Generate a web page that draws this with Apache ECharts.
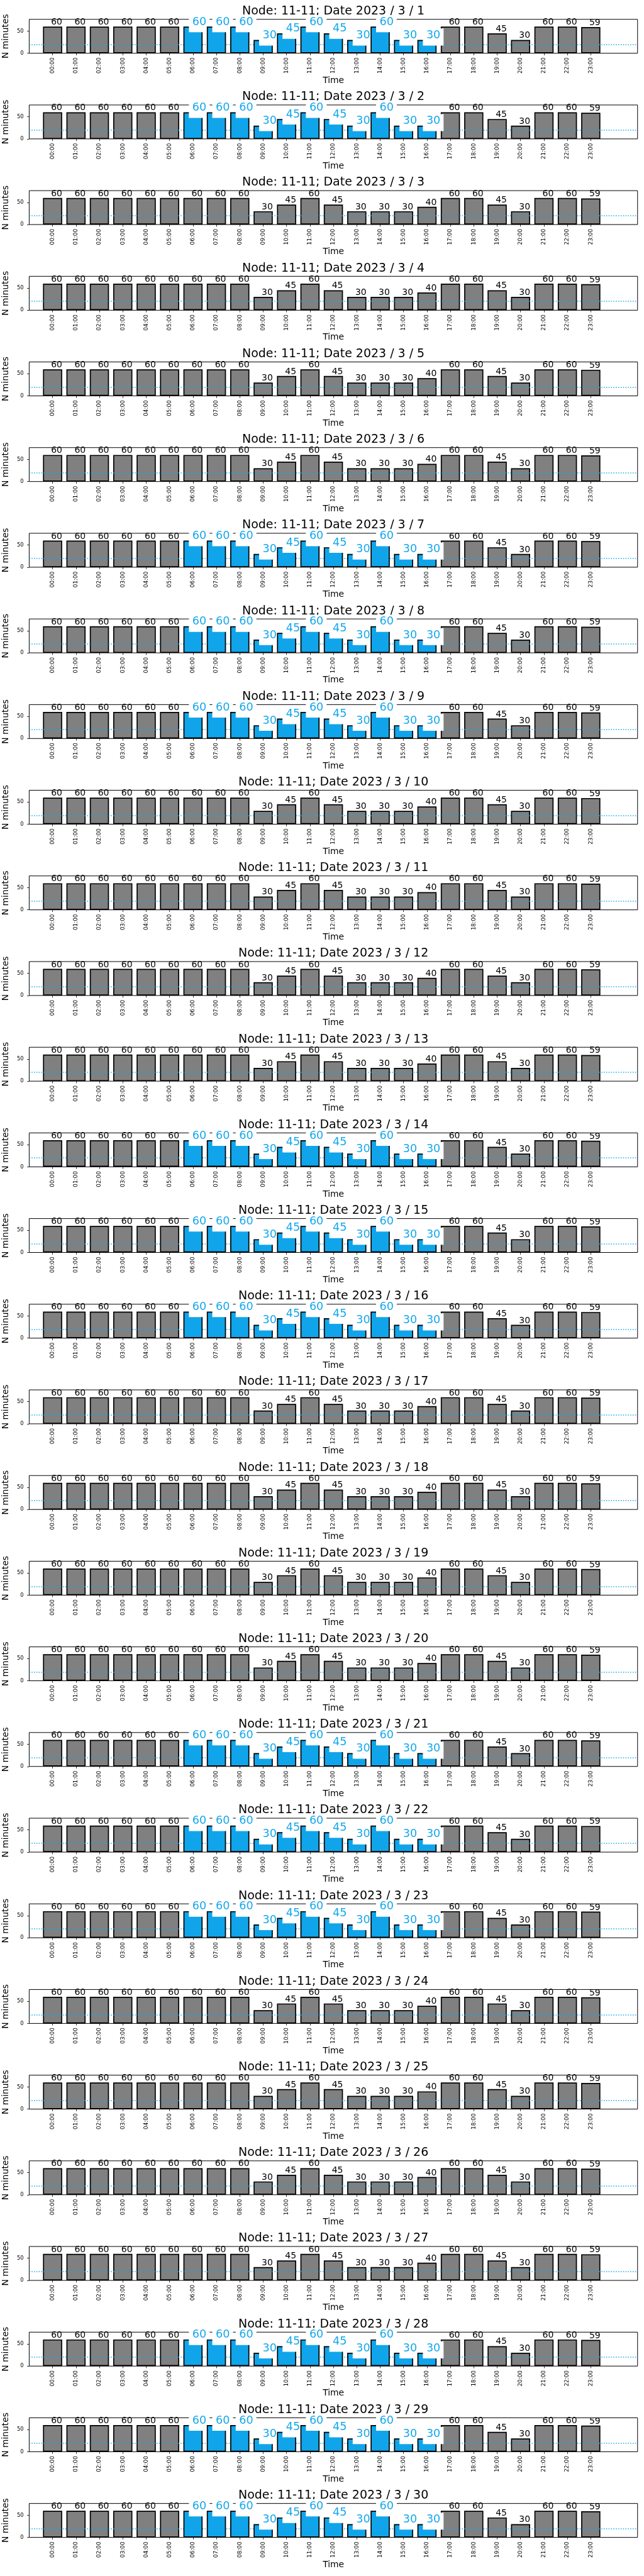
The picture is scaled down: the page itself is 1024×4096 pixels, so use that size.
<!DOCTYPE html>
<html><head><meta charset="utf-8">
<script src="https://cdn.jsdelivr.net/npm/echarts@6/dist/echarts.min.js"></script>
<style>html,body{margin:0;padding:0;background:#fff}#c{width:1024px;height:4096px}</style>
</head><body><div id="c"></div>
<script>
// ---- data ----
const hours = ['00:00','01:00','02:00','03:00','04:00','05:00','06:00','07:00','08:00','09:00','10:00','11:00',
               '12:00','13:00','14:00','15:00','16:00','17:00','18:00','19:00','20:00','21:00','22:00','23:00'];
const days = [1,2,3,4,5,6,7,8,9,10,11,12,13,14,15,16,17,18,19,20,21,22,23,24,25,26,27,28,29,30];
const highlightDays = [1,2,7,8,9,14,15,16,21,22,23,28,29,30];
const highlightHours = ['06:00','07:00','08:00','09:00','10:00','11:00','12:00','13:00','14:00','15:00','16:00'];
const minutesHighlightDay = [60,60,60,60,60,60,60,60,60,30,45,60,45,30,60,30,30,60,60,45,30,60,60,59];
const minutesRegularDay   = [60,60,60,60,60,60,60,60,60,30,45,60,45,30,30,30,40,60,60,45,30,60,60,59];
const thresholdMinutes = 20;
const yTicks = [0, 50];
const yMax = 76.5;
const nodeName = '11-11';

// ---- layout ----
const S = 1024 / 1500;
const F = v => v * S;
const PERIOD = 199.52;
const FONT = 'DejaVu Sans';
const GREY = '#808080', BLUE = '#10a5ea', TXTBLUE = '#14a7ec';
const cats = [' '].concat(hours, ['  ', '   ']);
const pad = arr => [null].concat(arr, [null, null]);
const showIdx = idx => idx >= 1 && idx <= hours.length;

const option = { animation: false, title: [], grid: [], xAxis: [], yAxis: [], series: [] };

days.forEach((d, i) => {
  const y0 = i * PERIOD;
  const hl = highlightDays.includes(d);
  const vals = hl ? minutesHighlightDay : minutesRegularDay;
  const isBlue = h => hl && highlightHours.includes(h);

  option.title.push({
    text: 'Node: ' + nodeName + '; Date 2023 / 3 / ' + d,
    left: F(776.5), top: F(y0 + 36.6) - F(27.8) * 0.86, textAlign: 'center', padding: 0,
    textStyle: { fontFamily: FONT, fontSize: F(27.8), lineHeight: F(27.8), fontWeight: 'normal', color: '#000' }
  });
  option.grid.push({
    left: F(68), top: F(45 + y0), width: F(1417), height: F(79), containLabel: false, outerBoundsMode: 'none',
    show: true, borderColor: '#000', borderWidth: 1, backgroundColor: 'transparent'
  });
  option.xAxis.push({
    type: 'category', gridIndex: i, data: cats, boundaryGap: false,
    axisLine: { show: false },
    axisTick: { show: true, interval: showIdx, length: F(4.9), lineStyle: { color: '#000', width: F(1.2) } },
    axisLabel: { interval: showIdx, rotate: 90, fontSize: F(13), fontFamily: FONT, color: '#000', margin: F(10) },
    name: 'Time', nameLocation: 'middle', nameGap: 36.7,
    nameTextStyle: { fontFamily: FONT, fontSize: F(20.3), lineHeight: F(20.3), color: '#000' }
  });
  option.yAxis.push({
    type: 'value', gridIndex: i, min: 0, max: yMax,
    axisLine: { show: false }, splitLine: { show: false },
    axisTick: { show: true, customValues: yTicks, length: F(4.9), lineStyle: { color: '#000', width: F(1.2) } },
    axisLabel: { customValues: yTicks, fontSize: F(12.3), fontFamily: FONT, color: '#000', margin: F(12.8) },
    name: 'N minutes', nameLocation: 'middle', nameGap: 18,
    nameTextStyle: { fontFamily: FONT, fontSize: F(20.3), lineHeight: F(20.3), color: '#000' }
  });

  // regular (grey) bars
  option.series.push({
    type: 'bar', xAxisIndex: i, yAxisIndex: i, stack: 's' + i, z: 2, barWidth: '82%',
    data: pad(hours.map((h, k) => isBlue(h) ? null : vals[k])),
    itemStyle: { color: GREY, borderColor: '#000', borderWidth: F(2.5) },
    label: { show: true, position: ['50%', 0], align: 'left', verticalAlign: 'bottom', offset: [-2.4, 0.3],
             fontFamily: FONT, fontSize: F(20.5), lineHeight: F(20.5), color: '#000' },
    markLine: {
      silent: true, symbol: 'none', z: 5, animation: false,
      label: { show: false },
      lineStyle: { color: BLUE, width: F(2.3), type: [F(2.2), F(3.4)] },
      data: [{ yAxis: thresholdMinutes }]
    }
  });

  // highlighted bars: one series per hour so each bar is drawn over the previous label box
  if (hl) {
    highlightHours.forEach((h, k) => {
      const idx = hours.indexOf(h);
      option.series.push({
        type: 'bar', xAxisIndex: i, yAxisIndex: i, stack: 's' + i, z: 10 + k, barWidth: '82%',
        data: pad(hours.map((hh, j) => j === idx ? vals[j] : null)),
        itemStyle: { color: BLUE, borderColor: '#000', borderWidth: F(2.5) },
        label: { show: true, position: ['50%', 0], align: 'left', verticalAlign: 'bottom', offset: [-6.5, 8.9],
                 fontFamily: FONT, fontSize: F(25.8), lineHeight: F(25.8), color: TXTBLUE,
                 backgroundColor: '#fff', padding: [2.5, 5, 7.1, 5.5] }
      });
    });
  }
});

const chart = echarts.init(document.getElementById('c'), null, { renderer: 'canvas' });
chart.setOption(option);
</script>
</body></html>
